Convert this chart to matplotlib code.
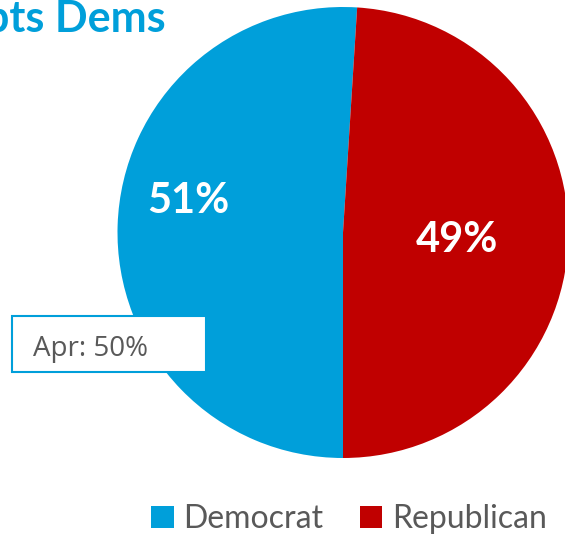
import matplotlib
matplotlib.use("Agg")
import matplotlib.pyplot as plt
from matplotlib.patches import Rectangle

# --- data ---
parties = ["Democrat", "Republican"]
shares = [51, 49]
colors = ["#009FDA", "#C00000"]
title_text = "pts Dems"
note_text = "Apr: 50%"

W, H = 565, 539
BLUE = "#009FDA"
GRAY = "#595959"
FONT = "Lato"

fig = plt.figure(figsize=(W / 100, H / 100), dpi=100)
ax = fig.add_axes([0, 0, 1, 1])

# pie in pixel-like coordinates (y measured from bottom)
cx, cy, r = 343, H - 232.5, 225.5
wedges, _, pct = ax.pie(shares, colors=colors, startangle=270, counterclock=False,
                        center=(cx, cy), radius=r, autopct="%d%%",
                        wedgeprops=dict(linewidth=0),
                        textprops=dict(color="white", fontsize=30, fontweight="bold",
                                       family=FONT))
# nudge percentage labels to where they sit in the original
for t, (px, py) in zip(pct, [(188, 201), (457, 240)]):
    t.set_position((px, H - py))
    t.set_ha("center")
    t.set_va("center")

ax.set_xlim(0, W)
ax.set_ylim(0, H)
ax.set_aspect("equal")
ax.axis("off")

# clipped title at the top left
ax.text(166, H - 32, title_text, ha="right", va="baseline", color=BLUE,
        fontsize=31, fontweight="bold", family=FONT)

# callout box
ax.add_patch(Rectangle((12, H - 372), 194, 56, facecolor="white",
                       edgecolor=BLUE, linewidth=1.5, zorder=3))
ax.text(33, H - 356, note_text, ha="left", va="baseline", color=GRAY,
        fontsize=20, family="Open Sans", zorder=4)

leg = ax.legend(wedges, parties, ncol=2, frameon=False, loc="center",
                bbox_to_anchor=(349 / W, 1 - 519 / H),
                prop=dict(family=FONT, size=23), labelcolor=GRAY,
                handlelength=0.7, handleheight=0.7, handletextpad=0.3,
                columnspacing=1.15)

fig.savefig("out.png", dpi=100)
